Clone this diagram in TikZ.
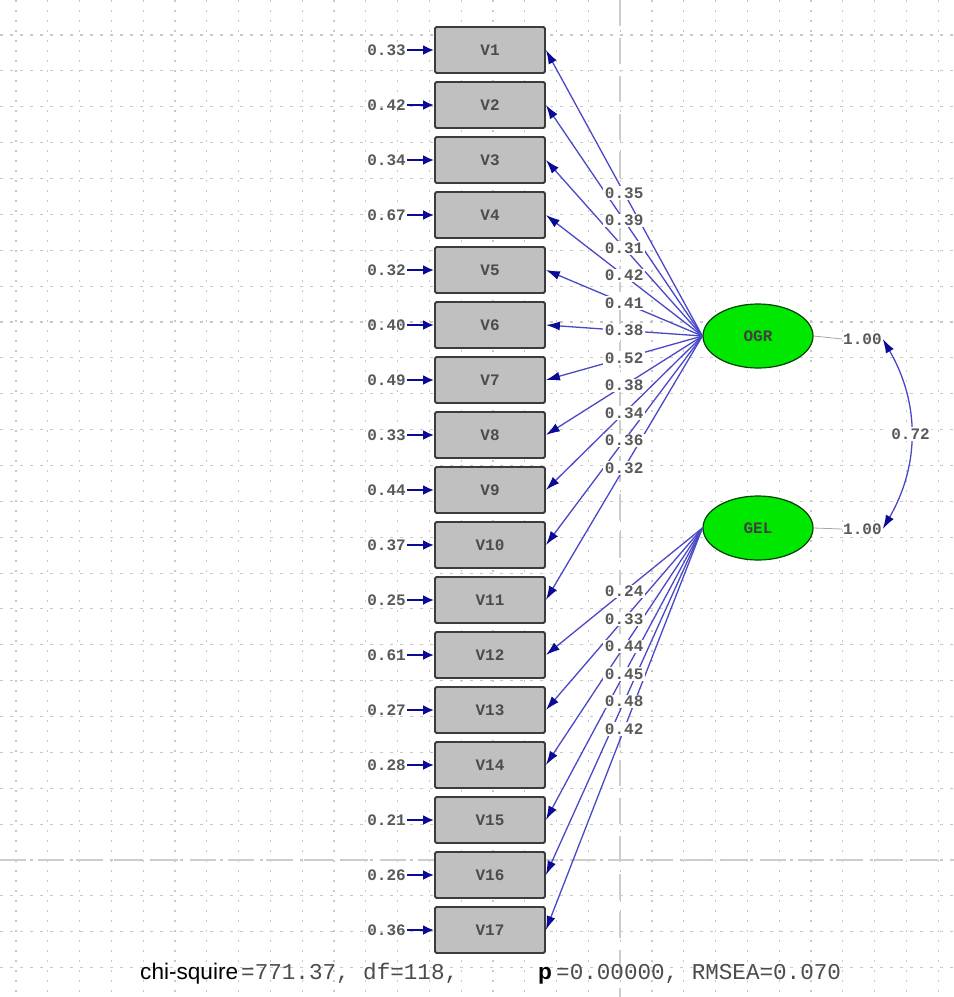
\documentclass[tikz,border=0pt]{standalone}
\usepackage{fontspec}
\setmainfont{Liberation Sans}
\newfontfamily\monof{Liberation Mono}
\usetikzlibrary{arrows.meta,shapes.geometric,calc}
\definecolor{navyc}{RGB}{10,10,150}
\definecolor{loadc}{RGB}{72,72,200}
\definecolor{boxfill}{RGB}{192,192,192}
\definecolor{boxline}{RGB}{60,60,60}
\definecolor{latfill}{RGB}{0,232,0}
\definecolor{gridc}{RGB}{200,200,200}
\definecolor{axisc}{RGB}{205,205,205}
\begin{document}
\begin{tikzpicture}[x=1pt,y=-1pt,
  obs/.style={draw=boxline, line width=1.8pt, fill=boxfill, rounded corners=1.5pt,
    minimum width=110pt, minimum height=46pt, inner sep=0pt,
    font=\monof\bfseries\fontsize{16}{16}\selectfont, text=black!70},
  lat/.style={ellipse, draw=black!75!green, line width=1.2pt, fill=latfill,
    minimum width=110pt, minimum height=64pt, inner sep=0pt,
    font=\monof\bfseries\fontsize{16}{16}\selectfont, text=black!75},
  val/.style={font=\monof\bfseries\fontsize{16}{16}\selectfont, text=black!65, inner sep=1pt},
  lab/.style={val, fill=white, inner sep=1.5pt},
  err/.style={draw=navyc, line width=2.2pt, -{Latex[length=11pt,width=10pt]}},
  load/.style={draw=loadc, line width=1.3pt, -{Latex[length=14pt,width=9pt,color=navyc]}},
  cov/.style={draw=loadc, line width=1.3pt,
    {Latex[length=14pt,width=9pt,color=navyc]}-{Latex[length=14pt,width=9pt,color=navyc]}},
  gridv/.style={draw=gridc, line width=1.2pt, dash pattern=on 1.5pt off 8.5pt},
  gridh/.style={draw=gridc, line width=1.1pt, dash pattern=on 3pt off 7pt},
  axisline/.style={draw=axisc, line width=2pt, dash pattern=on 26pt off 12pt},
  varline/.style={draw=gray!70, line width=0.8pt},
  bigmono/.style={anchor=base west, inner sep=0pt, font=\monof\fontsize{22.6}{24}\selectfont, text=black!70},
  bigsans/.style={anchor=base west, inner sep=0pt, font=\fontsize{22.6}{24}\selectfont, text=black}
]
\useasboundingbox[fill=white] (0,0) rectangle (954,997);
% grid
\foreach \i in {0,...,29} \draw[gridv] ({16+31.8*\i},0) -- ({16+31.8*\i},997);
\foreach \j in {0,...,26} \draw[gridh] (0,{35+35.87*\j}) -- (954,{35+35.87*\j});
\draw[axisline] (620,0) -- (620,997);
\draw[axisline] (0,860) -- (954,860);

% observed variables
\foreach \i in {1,...,17} \node[obs] (V\i) at (490,{50+55*(\i-1)}) {V\i};

% error variances
\foreach \i/\e in {1/0.33,2/0.42,3/0.34,4/0.67,5/0.32,6/0.40,7/0.49,8/0.33,9/0.44,10/0.37,11/0.25,12/0.61,13/0.27,14/0.28,15/0.21,16/0.26,17/0.36}{
  \node[val, anchor=east] (e\i) at (407,{50+55*(\i-1)}) {\e};
  \draw[err] (e\i.east) -- (V\i.west);
}

% latent variables
\node[lat] (OGR) at (758,336) {OGR};
\node[lat] (GEL) at (758,528) {GEL};

% loadings
\foreach \i in {1,...,11} \draw[load] (OGR.west) -- (V\i.east);
\foreach \i in {12,...,17} \draw[load] (GEL.west) -- (V\i.east);
\foreach \i/\l in {1/0.35,2/0.39,3/0.31,4/0.42,5/0.41,6/0.38,7/0.52,8/0.38,9/0.34,10/0.36,11/0.32}
  \node[lab] (lo\i) at ($(OGR.west)!0.5!(V\i.east)$) {\l};
\foreach \i/\l in {12/0.24,13/0.33,14/0.44,15/0.45,16/0.48,17/0.42}
  \node[lab] (lg\i) at ($(GEL.west)!0.5!(V\i.east)$) {\l};

% variances and covariance
\node[val, anchor=west] (vo) at (842,339) {1.00};
\node[val, anchor=west] (vg) at (842,529) {1.00};
\draw[varline] (OGR.east) -- (vo.west);
\draw[varline] (GEL.east) -- (vg.west);
\draw[cov] (vo.east) to[bend left=30] node[lab] (cv) {0.72} (vg.east);

% fit statistics
\node[bigsans] (chi) at (140,979) {chi-squire};
\node[bigmono] (s1) at (241,979) {=771.37, df=118,};
\node[bigsans, font=\bfseries\fontsize{22.6}{24}\selectfont] (pp) at (538,979) {p};
\node[bigmono] (s2) at (556,979) {=0.00000, RMSEA=0.070};
\end{tikzpicture}
\end{document}
